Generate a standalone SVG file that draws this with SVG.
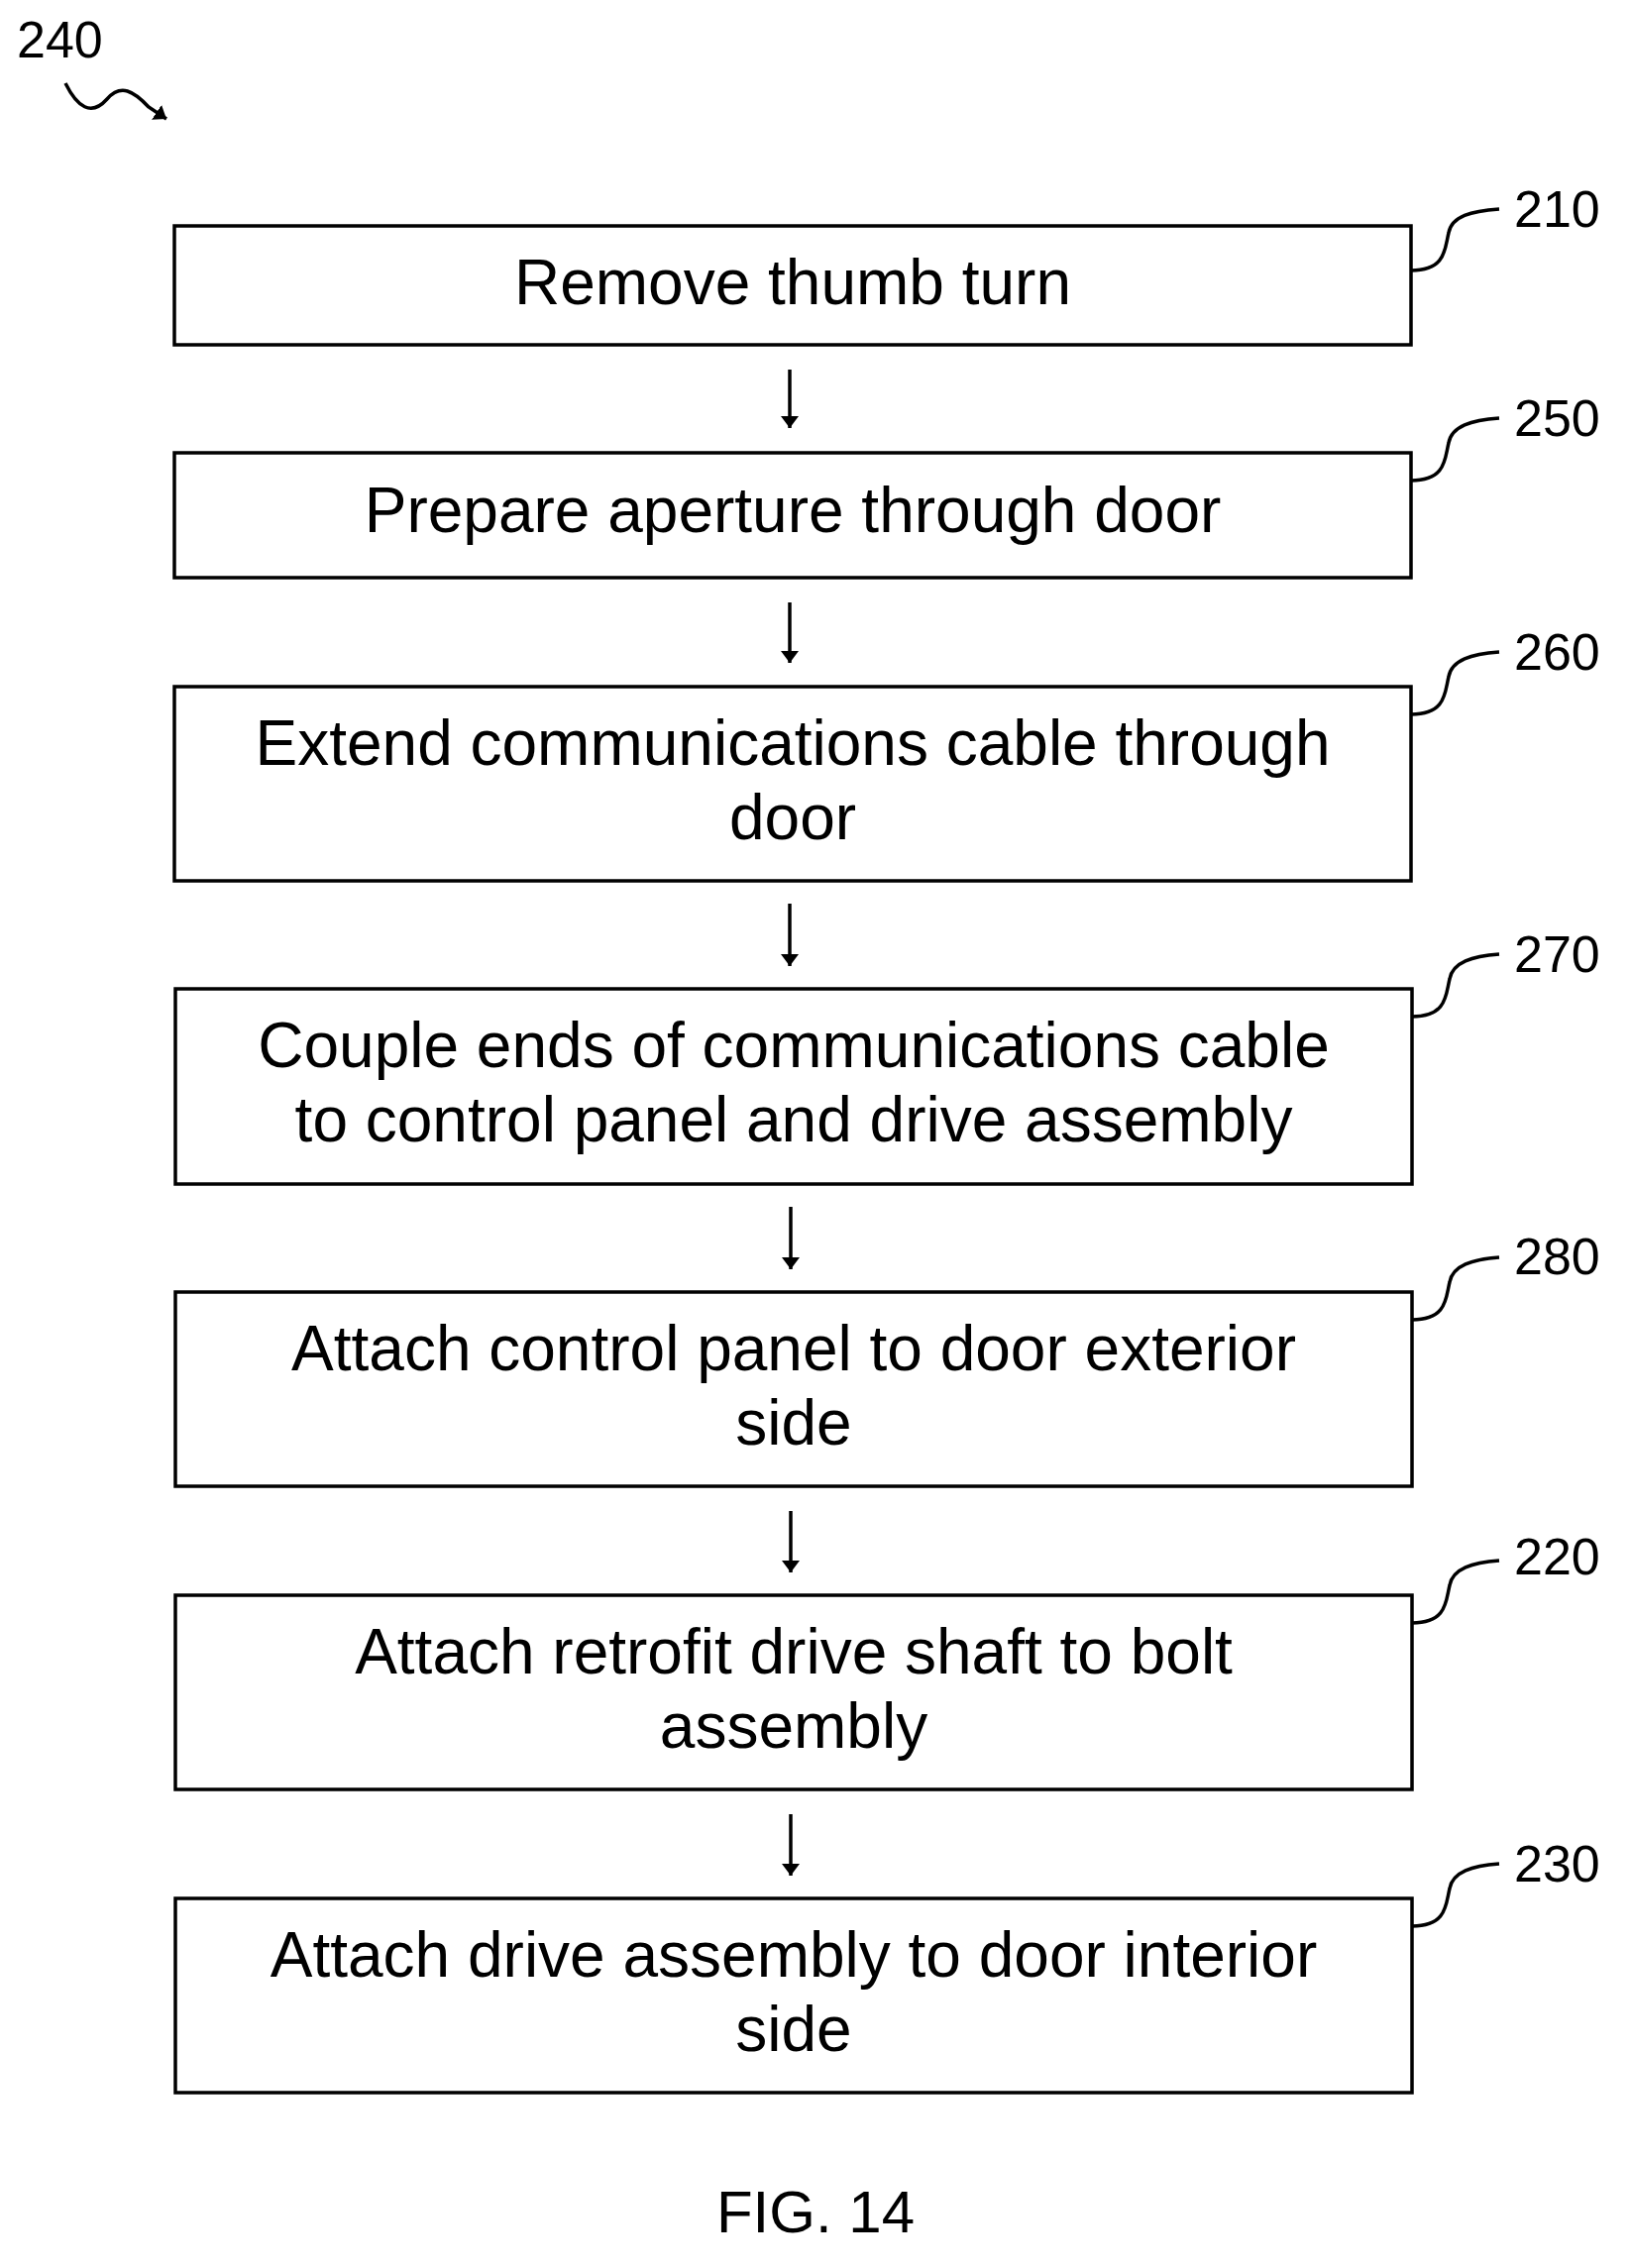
<svg xmlns="http://www.w3.org/2000/svg" width="1645" height="2289" viewBox="0 0 1645 2289">
<defs><marker id="ad" viewBox="0 0 12 18" refX="12" refY="9" markerWidth="12" markerHeight="18" orient="auto" markerUnits="userSpaceOnUse"><path d="M0,0 L12,9 L0,18 z" fill="#000"/></marker></defs>
<style>
rect.b{fill:#fff;stroke:#000;stroke-width:3.5}
text{font-family:"Liberation Sans",Arial,sans-serif;fill:#000}
.t{font-size:64px;text-anchor:middle}
.l{font-size:52px}
.c{fill:none;stroke:#000;stroke-width:3.5}
</style>
<rect width="1645" height="2289" fill="#fff"/>
<g id="n240"><text class="l" x="17" y="58">240</text><path class="c" d="M66,84 C78,108 92,118 108,100 C122,84 135,92 150,108 L168,120" marker-end="url(#ad)"/></g>
<g id="n210"><rect class="b" x="176" y="228" width="1248" height="120"/><text class="t" x="800" y="307">Remove thumb turn</text><text class="l" x="1528" y="229">210</text><path class="c" d="M1424,273 C1460,273 1458,250 1462,235 C1465,218 1485,213 1513,211"/></g>
<g id="n250"><rect class="b" x="176" y="457" width="1248" height="126"/><text class="t" x="800" y="537">Prepare aperture through door</text><text class="l" x="1528" y="440">250</text><path class="c" d="M1424,485 C1460,485 1458,462 1462,447 C1465,430 1485,424 1513,422"/></g>
<g id="n260"><rect class="b" x="176" y="693" width="1248" height="196"/><text class="t" x="800" y="772">Extend communications cable through</text><text class="t" x="800" y="847">door</text><text class="l" x="1528" y="676">260</text><path class="c" d="M1424,721 C1460,721 1458,698 1462,683 C1465,666 1485,660 1513,658"/></g>
<g id="n270"><rect class="b" x="177" y="998" width="1248" height="197"/><text class="t" x="801" y="1077">Couple ends of communications cable</text><text class="t" x="801" y="1152">to control panel and drive assembly</text><text class="l" x="1528" y="981">270</text><path class="c" d="M1425,1026 C1461,1026 1459,1003 1463,988 C1466,971 1486,965 1513,963"/></g>
<g id="n280"><rect class="b" x="177" y="1304" width="1248" height="196"/><text class="t" x="801" y="1383">Attach control panel to door exterior</text><text class="t" x="801" y="1458">side</text><text class="l" x="1528" y="1286">280</text><path class="c" d="M1425,1332 C1461,1332 1459,1309 1463,1294 C1466,1277 1486,1271 1513,1269"/></g>
<g id="n220"><rect class="b" x="177" y="1610" width="1248" height="196"/><text class="t" x="801" y="1689">Attach retrofit drive shaft to bolt</text><text class="t" x="801" y="1764">assembly</text><text class="l" x="1528" y="1589">220</text><path class="c" d="M1425,1638 C1461,1638 1459,1615 1463,1600 C1466,1583 1486,1577 1513,1575"/></g>
<g id="n230"><rect class="b" x="177" y="1916" width="1248" height="196"/><text class="t" x="801" y="1995">Attach drive assembly to door interior</text><text class="t" x="801" y="2070">side</text><text class="l" x="1528" y="1899">230</text><path class="c" d="M1425,1944 C1461,1944 1459,1921 1463,1906 C1466,1889 1486,1883 1513,1881"/></g>
<g id="connectors" stroke="#000" stroke-width="3.5">
<line x1="797" y1="373" x2="797" y2="432" marker-end="url(#ad)"/>
<line x1="797" y1="608" x2="797" y2="669" marker-end="url(#ad)"/>
<line x1="797" y1="912" x2="797" y2="975" marker-end="url(#ad)"/>
<line x1="798" y1="1218" x2="798" y2="1281" marker-end="url(#ad)"/>
<line x1="798" y1="1525" x2="798" y2="1587" marker-end="url(#ad)"/>
<line x1="798" y1="1831" x2="798" y2="1893" marker-end="url(#ad)"/>
</g>
<text x="823" y="2253" style="font-size:60px;text-anchor:middle">FIG. 14</text>
</svg>
